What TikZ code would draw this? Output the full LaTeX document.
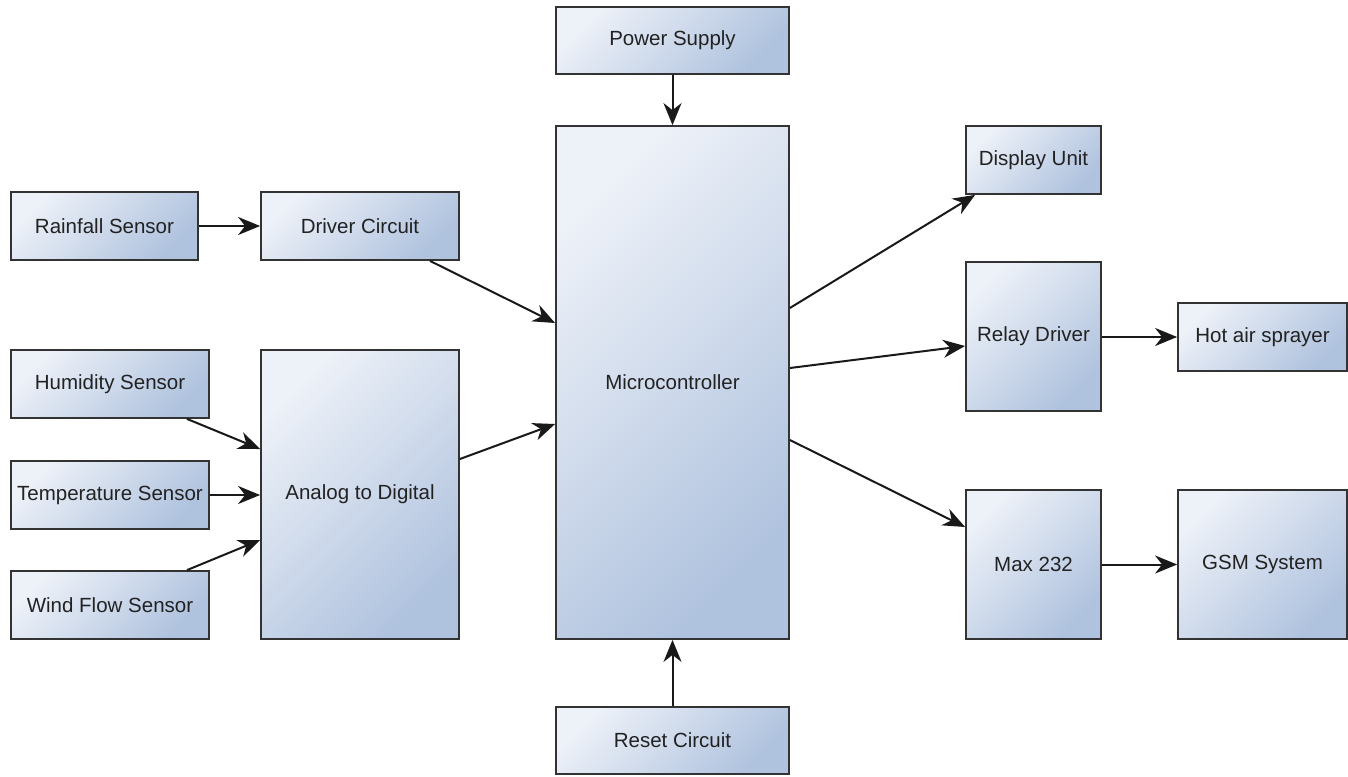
\documentclass[tikz,border=0pt]{standalone}
\usepackage{fontspec}
\setmainfont{Liberation Sans}
\usetikzlibrary{arrows.meta,calc}
\definecolor{boxlight}{HTML}{EDF1F8}
\definecolor{boxdark}{HTML}{AFC2DE}
\definecolor{edge}{HTML}{333333}
\definecolor{txt}{HTML}{222222}
\begin{document}
\begin{tikzpicture}[x=1pt,y=-1pt,
  blk/.style={draw=edge, line width=1.8pt, left color=boxlight, right color=boxdark, shading angle=45,
    inner sep=0pt, text=txt, font=\fontsize{20.5}{22}\selectfont},
  conn/.style={draw=black!90, line width=2pt, -{Stealth[length=22pt,width=18pt,inset=7pt]}}]
\useasboundingbox (0,0) rectangle (1348,776);
\fill[white] (0,0) rectangle (1348,776);
\newcommand{\blkat}[6]{\node[blk, minimum width=#4 pt - #2 pt, minimum height=#5 pt - #3 pt] (#1) at ({(#2+#4)/2},{(#3+#5)/2}) {#6};}
\blkat{ps}{556}{7}{789}{74}{Power Supply}
\blkat{mc}{556}{126}{789}{639}{Microcontroller}
\blkat{rc}{556}{707}{789}{774}{Reset Circuit}
\blkat{du}{966}{126}{1101}{194}{Display Unit}
\blkat{rd}{966}{262}{1101}{411}{Relay Driver}
\blkat{hs}{1178}{303}{1347}{371}{Hot air sprayer}
\blkat{mx}{966}{490}{1101}{639}{Max 232}
\blkat{gsm}{1178}{490}{1347}{639}{GSM System}
\blkat{rs}{11}{192}{198}{260}{Rainfall Sensor}
\blkat{dc}{261}{192}{459}{260}{Driver Circuit}
\blkat{hum}{11}{350}{209}{418}{Humidity Sensor}
\blkat{ts}{11}{461}{209}{529}{Temperature Sensor}
\blkat{wf}{11}{571}{209}{639}{Wind Flow Sensor}
\blkat{ad}{261}{350}{459}{639}{Analog to Digital}
\draw[conn] (ps.south) -- (mc.north);
\draw[conn] (rc.north) -- (mc.south);
\draw[conn] (rs.east) -- (dc.west);
\draw[conn] (dc.south -| 430,0) -- (mc.west |- 0,323);
\draw[conn] (ad.east |- 0,459) -- (mc.west |- 0,424);
\draw[conn] (hum.south -| 187,0) -- (ad.west |- 0,449);
\draw[conn] (ts.east) -- (ad.west |- ts.east);
\draw[conn] (wf.north -| 187,0) -- (ad.west |- 0,540);
\draw[conn] (mc.east |- 0,308) -- ([xshift=10pt]du.south west);
\draw[conn] (mc.east |- 0,368) -- (rd.west |- 0,346);
\draw[conn] (mc.east |- 0,440) -- (mx.west |- 0,527);
\draw[conn] (rd.east |- hs.west) -- (hs.west);
\draw[conn] (mx.east) -- (gsm.west);
\end{tikzpicture}
\end{document}
